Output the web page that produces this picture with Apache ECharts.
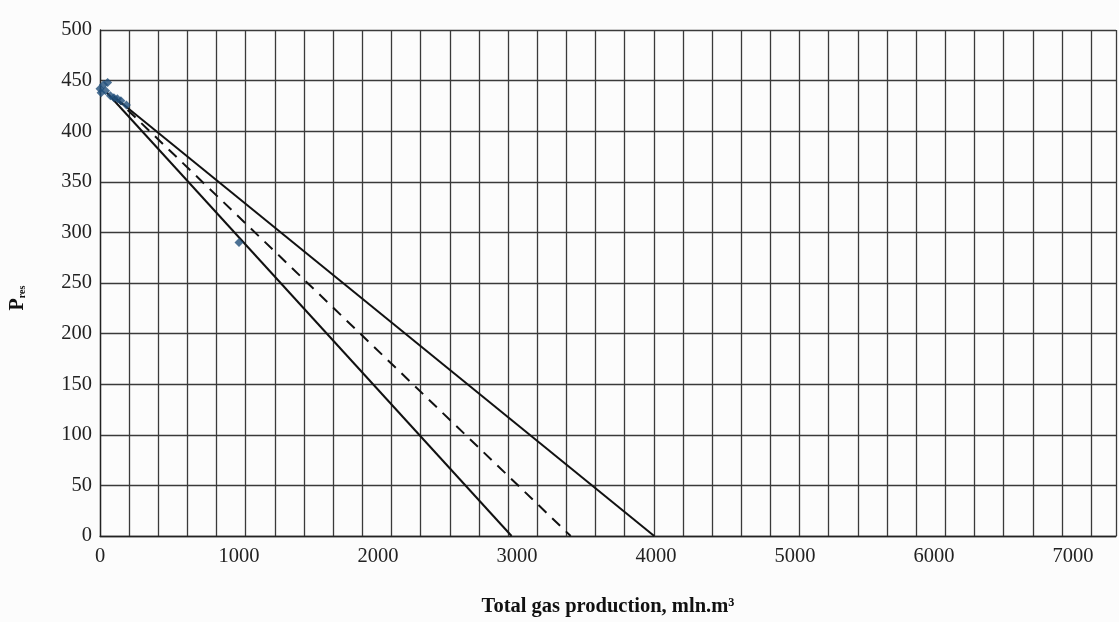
<!DOCTYPE html>
<html>
<head>
<meta charset="utf-8">
<script src="https://cdn.jsdelivr.net/npm/echarts@6/dist/echarts.min.js"></script>
<style>
html,body{margin:0;padding:0;background:#fcfcfc;}
#chart{width:1119px;height:622px;}
</style>
</head>
<body>
<div id="chart"></div>
<script>
// ---- data ----
const measuredPoints = [[0,442],[8,438],[25,446],[55,448],[40,440],[75,435],[100,433],[125,432],[150,430],[190,426],[1000,290]];
const lineLower = [[50,438],[2961,0]];
const lineMiddle = [[100,434],[3386,0]];
const lineUpper = [[100,434],[3987,0]];
const xTickStep = 1000;
const yTicks = [0,50,100,150,200,250,300,350,400,450,500];
const xAxisTitle = 'Total gas production, mln.m³';
const yAxisTitle = ['P', 'res'];

const X_MAX = 7309;
const GRID_STEP = 209.7;

const chart = echarts.init(document.getElementById('chart'), null, {renderer:'canvas'});
const font = 'Liberation Serif';
const gridColor = '#3a3a3a';

const option = {
  backgroundColor: '#fcfcfc',
  animation: false,
  grid: {left: 98, right: 0, top: 30, bottom: 84.5, containLabel: false},
  xAxis: [
    {
      type: 'value', min: 0, max: X_MAX, interval: xTickStep,
      axisLine: {show: true, lineStyle: {color: '#222', width: 1.3}},
      axisTick: {show: false},
      splitLine: {show: false},
      axisLabel: {
        color: '#222', fontFamily: font, fontSize: 20.5, margin: 10,
        formatter: v => (v % xTickStep === 0 ? String(v) : '')
      },
      name: xAxisTitle, nameLocation: 'middle', nameGap: 60,
      nameTextStyle: {color: '#111', fontFamily: font, fontSize: 20.5, fontWeight: 'bold'}
    },
    {
      type: 'value', min: 0, max: X_MAX, interval: GRID_STEP, position: 'bottom',
      axisLine: {show: false}, axisTick: {show: false}, axisLabel: {show: false},
      splitLine: {show: true, lineStyle: {color: gridColor, width: 1.3}}
    }
  ],
  yAxis: {
    type: 'value', min: 0, max: 500, interval: 50,
    axisLine: {show: true, lineStyle: {color: '#222', width: 1.3}},
    axisTick: {show: false},
    splitLine: {show: true, lineStyle: {color: gridColor, width: 1.3}},
    axisLabel: {color: '#222', fontFamily: font, fontSize: 20.5, margin: 8,
      formatter: v => (yTicks.indexOf(v) >= 0 ? String(v) : '')},
    name: '{p|' + yAxisTitle[0] + '}{s|' + yAxisTitle[1] + '}',
    nameLocation: 'middle', nameRotate: 90, nameGap: 72,
    nameTextStyle: {
      padding: [0, 30, 0, 0],
      rich: {
        p: {fontFamily: font, fontSize: 20, fontWeight: 'bold', color: '#111'},
        s: {fontFamily: font, fontSize: 10, fontWeight: 'bold', color: '#111', padding: [9,0,0,0]}
      }
    }
  },
  series: [
    {type: 'line', data: lineLower, symbol: 'none', lineStyle: {color: '#111', width: 2}, z: 3},
    {type: 'line', data: lineMiddle, symbol: 'none', lineStyle: {color: '#111', width: 2, type: [11, 8]}, z: 3},
    {type: 'line', data: lineUpper, symbol: 'none', lineStyle: {color: '#111', width: 2}, z: 3},
    {type: 'scatter', data: measuredPoints, symbol: 'diamond', symbolSize: 9,
     itemStyle: {color: '#1f4e79'}, z: 4}
  ]
};
chart.setOption(option);
</script>
</body>
</html>
